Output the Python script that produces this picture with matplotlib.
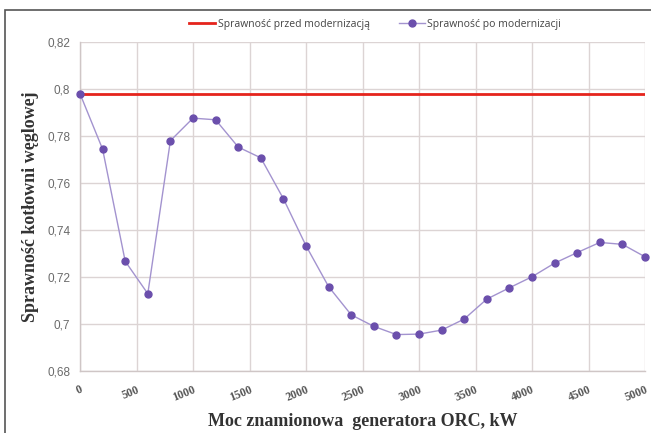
import matplotlib
matplotlib.use("Agg")
import matplotlib.pyplot as plt
from matplotlib.patches import Rectangle

moc_kw = [0, 200, 400, 600, 800, 1000, 1200, 1400, 1600, 1800, 2000, 2200, 2400,
          2600, 2800, 3000, 3200, 3400, 3600, 3800, 4000, 4200, 4400, 4600, 4800, 5000]
sprawnosc_po = [0.798, 0.7744, 0.7267, 0.7129, 0.778, 0.7876, 0.7869, 0.7753, 0.7707,
                0.7533, 0.7333, 0.7159, 0.7039, 0.699, 0.6955, 0.6957, 0.6974, 0.7021,
                0.7106, 0.7154, 0.7201, 0.7259, 0.7304, 0.7347, 0.7339, 0.7286]
sprawnosc_przed = 0.798
x_ticks = [0, 500, 1000, 1500, 2000, 2500, 3000, 3500, 4000, 4500, 5000]
y_ticks = [0.68, 0.70, 0.72, 0.74, 0.76, 0.78, 0.80, 0.82]
y_tick_labels = ["0,68", "0,7", "0,72", "0,74", "0,76", "0,78", "0,8", "0,82"]

fig = plt.figure(figsize=(6.51, 4.33), dpi=100)
fig.patches.append(Rectangle((5/651, -0.05), 1.1, 1 - 10/433 + 0.05, transform=fig.transFigure,
                             fill=False, edgecolor="#555555", linewidth=1.2))
ax = fig.add_axes([80/651, 1 - 371/433, 565/651, 329/433])

ax.plot([0, 5000], [sprawnosc_przed, sprawnosc_przed], color="#e5241c", linewidth=2,
        label="Sprawność przed modernizacją", zorder=3)
ax.plot(moc_kw, sprawnosc_po, color="#a393cf", linewidth=1, marker="o", markersize=5,
        markerfacecolor="#6b4fac", markeredgecolor="#6b4fac",
        label="Sprawność po modernizacji", zorder=4, clip_on=False)

ax.set_xlim(0, 5000)
ax.set_ylim(0.68, 0.82)
ax.set_xticks(x_ticks)
ax.set_xticklabels([str(t) for t in x_ticks], rotation=22, ha="right", rotation_mode="anchor",
                   family="Liberation Serif", fontweight="bold", fontsize=8.5, color="#555555")
ax.set_yticks(y_ticks)
ax.set_yticklabels(y_tick_labels, family="Liberation Sans", fontsize=8.5, color="#6a6a6a")
ax.tick_params(axis="y", length=0, pad=7)
ax.tick_params(axis="x", length=0, pad=9)
ax.grid(True, color="#dcd4d4", linewidth=1)
ax.set_axisbelow(True)
for s in ["top", "right"]:
    ax.spines[s].set_visible(False)
for s in ["left", "bottom"]:
    ax.spines[s].set_color("#cfc6c6")
    ax.spines[s].set_linewidth(1)

ax.set_xlabel("Moc znamionowa  generatora ORC, kW", family="Liberation Serif",
              fontweight="bold", fontsize=13, color="#333333", labelpad=7)
ax.set_ylabel("Sprawność kotłowni węglowej", family="Liberation Serif",
              fontweight="bold", fontsize=13, color="#333333", labelpad=6)

leg = fig.legend(loc="center", bbox_to_anchor=(375/651, 1 - 24/433), ncol=2, frameon=False,
                 prop={"family": "Open Sans", "size": 7.5}, handlelength=2.5,
                 columnspacing=2.8, handletextpad=0.2)
for t in leg.get_texts():
    t.set_color("#444444")

fig.savefig("out.png", dpi=100, facecolor="white")
